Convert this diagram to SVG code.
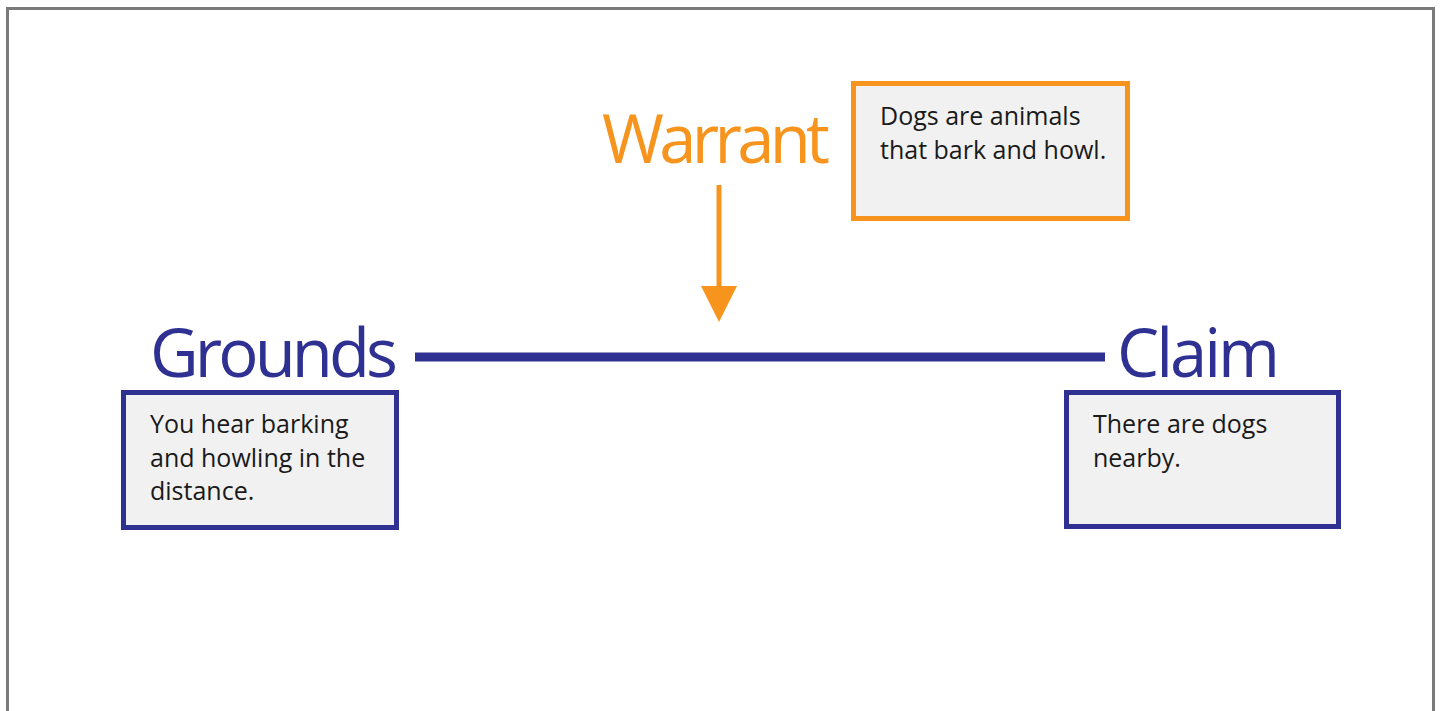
<svg xmlns="http://www.w3.org/2000/svg" width="1441" height="711" viewBox="0 0 1441 711">
<defs>
<style>
.frame{fill:#fff;stroke:#7a7a7a;stroke-width:3}
.box{fill:#f1f1f1;stroke-width:5}
.blue{stroke:#2e3192}
.orange{stroke:#f7941d}
.title{font-family:"Open Sans","Liberation Sans",sans-serif;font-size:67px}
.body{font-family:"Open Sans","Liberation Sans",sans-serif;font-size:25px;fill:#1a1a1a}
</style>
<marker id="ah" markerUnits="userSpaceOnUse" markerWidth="44" markerHeight="36" refX="0" refY="18" orient="auto">
<path d="M0,0 L36,18 L0,36 Z" fill="#f7941d"/>
</marker>
</defs>
<rect x="0" y="0" width="1441" height="711" fill="#fff"/>
<path class="frame" d="M7.5,711 V8.5 H1433.5 V711"/>
<g id="warrant">
<text class="title" x="602" y="163" fill="#f7941d" textLength="228">Warrant</text>
<rect class="box orange" x="853.5" y="83.5" width="274" height="135"/>
<text class="body" x="880" y="125">Dogs are animals</text>
<text class="body" x="880" y="159">that bark and howl.</text>
</g>
<g id="grounds">
<text class="title" x="150" y="377" fill="#2e3192" textLength="248">Grounds</text>
<rect class="box blue" x="123.5" y="392.5" width="273" height="135"/>
<text class="body" x="150" y="433">You hear barking</text>
<text class="body" x="150" y="467">and howling in the</text>
<text class="body" x="150" y="500">distance.</text>
</g>
<g id="claim">
<text class="title" x="1117" y="377" fill="#2e3192" textLength="163">Claim</text>
<rect class="box blue" x="1066.5" y="392.5" width="272" height="134"/>
<text class="body" x="1093" y="433">There are dogs</text>
<text class="body" x="1093" y="467">nearby.</text>
</g>
<g id="connectors">
<line x1="415" y1="357" x2="1105" y2="357" stroke="#2e3192" stroke-width="9"/>
<line x1="719" y1="185" x2="719" y2="286" stroke="#f7941d" stroke-width="5" marker-end="url(#ah)"/>
</g>
</svg>
